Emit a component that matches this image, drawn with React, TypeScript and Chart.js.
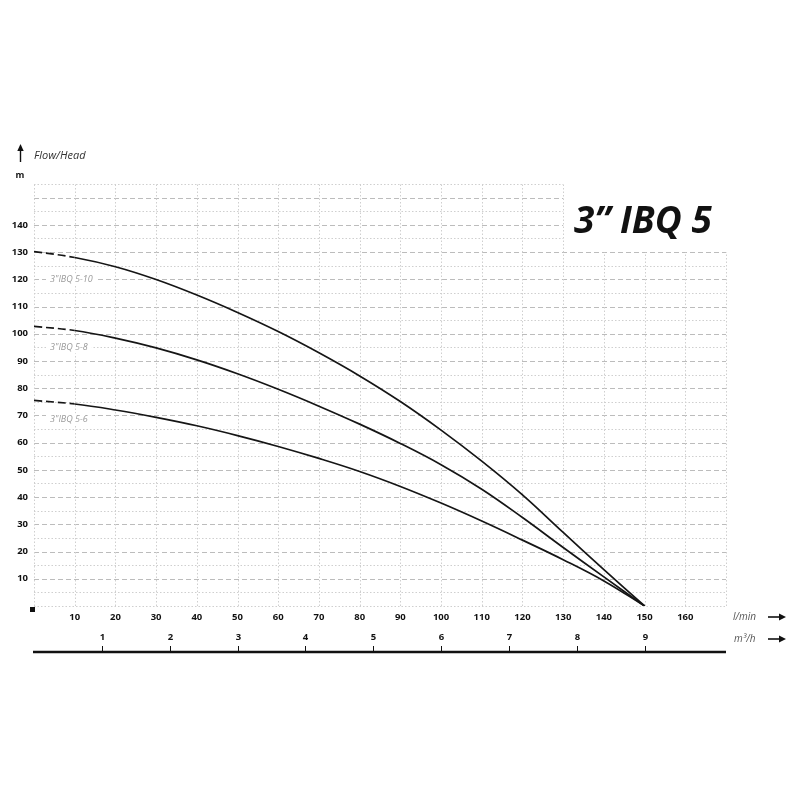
import React, { useEffect, useRef } from 'react';
import { Chart, registerables } from 'chart.js';

Chart.register(...registerables);

// ---- data ----
const flowLmin = [0, 10, 20, 30, 40, 50, 60, 70, 80, 90, 100, 110, 120, 130, 140, 150];
const head5_10 = [130.2, 128, 124.6, 119.9, 114.2, 107.8, 100.8, 93, 84.5, 75.1, 64.6, 53.2, 40.8, 27, 13.4, 0];
const head5_8 = [102.7, 101.2, 98.4, 94.8, 90.4, 85.3, 79.6, 73.4, 66.8, 59.7, 51.9, 42.9, 32.5, 21.5, 10.7, 0];
const head5_6 = [75.5, 74.2, 72, 69.3, 66.2, 62.6, 58.6, 54.2, 49.4, 43.9, 37.8, 31.2, 24.2, 17, 9.2, 0];
const seriesNames = ['3"IBQ 5-10', '3"IBQ 5-8', '3"IBQ 5-6'];
const seriesLabelHead = [120, 95, 68.6];
const yTickLabels = [10, 20, 30, 40, 50, 60, 70, 80, 90, 100, 110, 120, 130, 140];
const xTickLabels = [10, 20, 30, 40, 50, 60, 70, 80, 90, 100, 110, 120, 130, 140, 150, 160];
const m3hTicks = [1, 2, 3, 4, 5, 6, 7, 8, 9];
const titleText = '3\u201D IBQ 5';

const FONT = "'Open Sans', 'DejaVu Sans', sans-serif";

const gridPlugin = {
  id: 'pumpGrid',
  beforeDatasetsDraw(chart: any) {
    const { ctx } = chart;
    const xs = chart.scales.x;
    const ys = chart.scales.y;
    const X = (v: number) => xs.getPixelForValue(v);
    const Y = (v: number) => ys.getPixelForValue(v);
    ctx.save();
    ctx.lineWidth = 1;
    // horizontal lines every 5 m
    for (let h = 0; h <= 155; h += 5) {
      const major = h % 10 === 0 && h > 0;
      ctx.setLineDash(major ? [5, 3] : [1.5, 2]);
      ctx.strokeStyle = major ? '#bcbcbc' : '#cfcfcf';
      const xEnd = h > 130 ? X(130) : X(170);
      const py = Math.round(Y(h)) + 0.5;
      ctx.beginPath();
      ctx.moveTo(X(0), py);
      ctx.lineTo(xEnd, py);
      ctx.stroke();
    }
    // vertical lines every 10 l/min
    ctx.setLineDash([1.5, 2]);
    ctx.strokeStyle = '#cfcfcf';
    for (let q = 0; q <= 170; q += 10) {
      const yTop = q > 130 ? Y(130) : Y(155);
      const px = Math.round(X(q)) + 0.5;
      ctx.beginPath();
      ctx.moveTo(px, Y(0));
      ctx.lineTo(px, yTop);
      ctx.stroke();
    }
    ctx.setLineDash([]);
    // series labels with white background
    ctx.font = `italic 9px ${FONT}`;
    ctx.textBaseline = 'middle';
    ctx.textAlign = 'left';
    seriesNames.forEach((name, i) => {
      const py = Y(seriesLabelHead[i]);
      const x0 = X(0) + 14;
      const w = ctx.measureText(name).width;
      ctx.fillStyle = '#ffffff';
      ctx.fillRect(x0 - 2, py - 6, w + 8, 12);
      ctx.fillStyle = '#9a9a9a';
      ctx.fillText(name, x0 + 2, py);
    });
    ctx.restore();
  },
};

const drawArrowRight = (ctx: any, x0: number, x1: number, y: number) => {
  ctx.beginPath();
  ctx.moveTo(x0, y);
  ctx.lineTo(x1 - 5, y);
  ctx.lineWidth = 1.6;
  ctx.stroke();
  ctx.beginPath();
  ctx.moveTo(x1, y);
  ctx.lineTo(x1 - 7, y - 3.5);
  ctx.lineTo(x1 - 7, y + 3.5);
  ctx.closePath();
  ctx.fill();
};

const decorPlugin = {
  id: 'pumpDecor',
  afterDraw(chart: any) {
    const { ctx } = chart;
    const xs = chart.scales.x;
    const ys = chart.scales.y;
    const X = (v: number) => xs.getPixelForValue(v);
    const Y = (v: number) => ys.getPixelForValue(v);
    ctx.save();
    ctx.fillStyle = '#111';
    ctx.strokeStyle = '#111';

    // title
    ctx.font = `italic bold 37px ${FONT}`;
    ctx.textAlign = 'left';
    ctx.textBaseline = 'alphabetic';
    ctx.fillText(titleText, 574, 233);

    // y axis heading
    ctx.lineWidth = 1.4;
    ctx.beginPath();
    ctx.moveTo(20.5, 162);
    ctx.lineTo(20.5, 149);
    ctx.stroke();
    ctx.beginPath();
    ctx.moveTo(20.5, 144);
    ctx.lineTo(17.3, 151);
    ctx.lineTo(23.7, 151);
    ctx.closePath();
    ctx.fill();
    ctx.font = `italic 11px ${FONT}`;
    ctx.fillStyle = '#333';
    ctx.textBaseline = 'middle';
    ctx.fillText('Flow/Head', 34, 156);
    ctx.fillStyle = '#111';
    ctx.font = `bold 9px ${FONT}`;
    ctx.textAlign = 'center';
    ctx.fillText('m', 20, 175);

    // origin square
    ctx.fillRect(X(0) - 4, Y(0) + 1, 5, 5);

    // unit labels + arrows
    ctx.font = `italic 10px ${FONT}`;
    ctx.fillStyle = '#555';
    ctx.textAlign = 'left';
    ctx.fillText('l/min', 733, 617);
    ctx.fillText('m\u00B3/h', 734, 639);
    ctx.fillStyle = '#111';
    drawArrowRight(ctx, 768, 786, 617);
    drawArrowRight(ctx, 768, 786, 639);

    // m3/h axis
    const yLine = 652;
    ctx.lineWidth = 2.4;
    ctx.beginPath();
    ctx.moveTo(X(0) - 1, yLine);
    ctx.lineTo(X(170), yLine);
    ctx.stroke();
    ctx.lineWidth = 1;
    ctx.font = `bold 9.5px ${FONT}`;
    ctx.textAlign = 'center';
    ctx.textBaseline = 'middle';
    m3hTicks.forEach((m) => {
      const px = Math.round(X((m * 1000) / 60)) + 0.5;
      ctx.beginPath();
      ctx.moveTo(px, yLine);
      ctx.lineTo(px, yLine - 6);
      ctx.stroke();
      ctx.fillText(String(m), px, 637);
    });
    ctx.restore();
  },
};

const dashedStart = (ctx: any) => (ctx.p0.parsed.x < 10 ? [8, 4] : undefined);

export default function App() {
  const ref = useRef<HTMLCanvasElement | null>(null);
  useEffect(() => {
    if (!ref.current) return;
    const mk = (data: number[]) => ({
      data: flowLmin.map((q, i) => ({ x: q, y: data[i] })),
      borderColor: '#151515',
      borderWidth: 1.7,
      pointRadius: 0,
      tension: 0.4,
      fill: false,
      segment: { borderDash: dashedStart },
    });
    const chart = new Chart(ref.current, {
      type: 'line',
      data: {
        datasets: [mk(head5_10), mk(head5_8), mk(head5_6)],
      },
      options: {
        responsive: false,
        animation: false,
        layout: { padding: { left: 0, right: 74, top: 184, bottom: 0 } },
        plugins: { legend: { display: false }, tooltip: { enabled: false }, title: { display: false } },
        scales: {
          x: {
            type: 'linear',
            min: 0,
            max: 170,
            grid: { display: false, drawTicks: false },
            border: { display: false },
            ticks: {
              stepSize: 10,
              autoSkip: false,
              maxRotation: 0,
              padding: 6,
              color: '#111',
              font: { family: FONT, size: 9.5, weight: 'bold' },
              callback: (v: any) => (xTickLabels.includes(Number(v)) ? String(v) : ''),
            },
            afterFit: (s: any) => {
              s.height = 194;
            },
          },
          y: {
            type: 'linear',
            min: 0,
            max: 155,
            grid: { display: false, drawTicks: false },
            border: { display: false },
            ticks: {
              stepSize: 10,
              autoSkip: false,
              padding: 6,
              color: '#111',
              font: { family: FONT, size: 9.5, weight: 'bold' },
              callback: (v: any) => (yTickLabels.includes(Number(v)) ? String(v) : ''),
            },
            afterFit: (s: any) => {
              s.width = 34;
            },
          },
        },
      },
      plugins: [gridPlugin, decorPlugin],
    });
    return () => chart.destroy();
  }, []);
  return (
    <div style={{ position: 'absolute', left: 0, top: 0, width: 800, height: 800, background: '#fff' }}>
      <canvas ref={ref} width={800} height={800} style={{ display: 'block' }} />
    </div>
  );
}
